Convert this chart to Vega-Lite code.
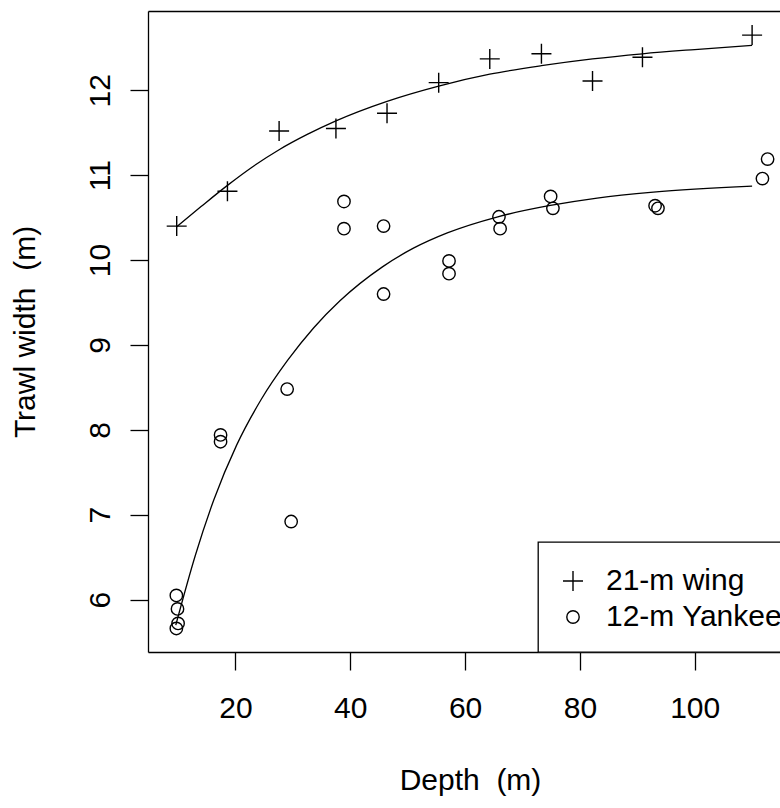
{
  "$schema": "https://vega.github.io/schema/vega-lite/v6.json",
  "autosize": {"type": "none"},
  "padding": {"left": 148, "top": 11, "right": 0, "bottom": 156},
  "width": 632,
  "height": 641,
  "background": "white",
  "datasets": {
    "points": [
      {"series": "21-m wing", "depth": 9.76, "width": 10.40},
      {"series": "21-m wing", "depth": 18.6, "width": 10.81},
      {"series": "21-m wing", "depth": 27.6, "width": 11.52},
      {"series": "21-m wing", "depth": 37.5, "width": 11.55},
      {"series": "21-m wing", "depth": 46.4, "width": 11.73},
      {"series": "21-m wing", "depth": 55.4, "width": 12.09},
      {"series": "21-m wing", "depth": 64.3, "width": 12.37},
      {"series": "21-m wing", "depth": 73.3, "width": 12.43},
      {"series": "21-m wing", "depth": 82.2, "width": 12.11},
      {"series": "21-m wing", "depth": 90.9, "width": 12.39},
      {"series": "21-m wing", "depth": 110.0, "width": 12.65},
      {"series": "12-m Yankee", "depth": 9.7, "width": 6.05},
      {"series": "12-m Yankee", "depth": 9.9, "width": 5.89},
      {"series": "12-m Yankee", "depth": 10.0, "width": 5.72},
      {"series": "12-m Yankee", "depth": 9.7, "width": 5.66},
      {"series": "12-m Yankee", "depth": 17.4, "width": 7.94},
      {"series": "12-m Yankee", "depth": 17.4, "width": 7.86},
      {"series": "12-m Yankee", "depth": 29.0, "width": 8.48},
      {"series": "12-m Yankee", "depth": 29.7, "width": 6.92},
      {"series": "12-m Yankee", "depth": 38.9, "width": 10.69},
      {"series": "12-m Yankee", "depth": 38.9, "width": 10.37},
      {"series": "12-m Yankee", "depth": 45.8, "width": 10.40},
      {"series": "12-m Yankee", "depth": 45.8, "width": 9.60},
      {"series": "12-m Yankee", "depth": 57.2, "width": 9.99},
      {"series": "12-m Yankee", "depth": 57.2, "width": 9.84},
      {"series": "12-m Yankee", "depth": 65.9, "width": 10.51},
      {"series": "12-m Yankee", "depth": 66.1, "width": 10.37},
      {"series": "12-m Yankee", "depth": 74.9, "width": 10.75},
      {"series": "12-m Yankee", "depth": 75.3, "width": 10.61},
      {"series": "12-m Yankee", "depth": 93.1, "width": 10.64},
      {"series": "12-m Yankee", "depth": 93.6, "width": 10.61},
      {"series": "12-m Yankee", "depth": 111.8, "width": 10.96},
      {"series": "12-m Yankee", "depth": 112.7, "width": 11.19}
    ],
    "curves": [
      {"series": "21-m wing", "depth": 9.7, "width": 10.39},
      {"series": "21-m wing", "depth": 14.0, "width": 10.63},
      {"series": "21-m wing", "depth": 18.6, "width": 10.88},
      {"series": "21-m wing", "depth": 23.0, "width": 11.10},
      {"series": "21-m wing", "depth": 27.6, "width": 11.30},
      {"series": "21-m wing", "depth": 32.5, "width": 11.48},
      {"series": "21-m wing", "depth": 37.5, "width": 11.64},
      {"series": "21-m wing", "depth": 46.4, "width": 11.87},
      {"series": "21-m wing", "depth": 55.4, "width": 12.05},
      {"series": "21-m wing", "depth": 64.3, "width": 12.19},
      {"series": "21-m wing", "depth": 73.3, "width": 12.29},
      {"series": "21-m wing", "depth": 82.2, "width": 12.37},
      {"series": "21-m wing", "depth": 90.9, "width": 12.43},
      {"series": "21-m wing", "depth": 100.0, "width": 12.48},
      {"series": "21-m wing", "depth": 110.0, "width": 12.53},
      {"series": "12-m Yankee", "depth": 9.6, "width": 5.70},
      {"series": "12-m Yankee", "depth": 13.0, "width": 6.52},
      {"series": "12-m Yankee", "depth": 16.2, "width": 7.17},
      {"series": "12-m Yankee", "depth": 20.2, "width": 7.82},
      {"series": "12-m Yankee", "depth": 24.5, "width": 8.36},
      {"series": "12-m Yankee", "depth": 29.1, "width": 8.82},
      {"series": "12-m Yankee", "depth": 33.6, "width": 9.20},
      {"series": "12-m Yankee", "depth": 38.2, "width": 9.52},
      {"series": "12-m Yankee", "depth": 45.6, "width": 9.92},
      {"series": "12-m Yankee", "depth": 51.0, "width": 10.14},
      {"series": "12-m Yankee", "depth": 56.9, "width": 10.32},
      {"series": "12-m Yankee", "depth": 65.7, "width": 10.51},
      {"series": "12-m Yankee", "depth": 74.6, "width": 10.64},
      {"series": "12-m Yankee", "depth": 83.0, "width": 10.73},
      {"series": "12-m Yankee", "depth": 92.8, "width": 10.80},
      {"series": "12-m Yankee", "depth": 110.0, "width": 10.87}
    ]
  },
  "layer": [
    {
      "data": {"name": "curves"},
      "mark": {"type": "line", "color": "black", "strokeWidth": 1.3, "interpolate": "monotone", "clip": true},
      "encoding": {
        "x": {
          "field": "depth", "type": "quantitative",
          "scale": {"domain": [4.76, 114.86], "nice": false, "zero": false},
          "axis": {
            "orient": "bottom",
            "values": [20, 40, 60, 80, 100],
            "labelBaseline": "alphabetic",
            "labelPadding": 47,
            "labelFlush": false,
            "labelOverlap": false,
            "title": "Depth\u00a0 (m)",
            "titleX": 322,
            "titleY": 137,
            "titleAlign": "center",
            "titleBaseline": "alphabetic",
            "titleAnchor": null
          }
        },
        "y": {
          "field": "width", "type": "quantitative",
          "scale": {"domain": [5.383, 12.934], "nice": false, "zero": false},
          "axis": {
            "orient": "left",
            "values": [6, 7, 8, 9, 10, 11, 12],
            "labelAngle": -90,
            "labelAlign": "center",
            "labelBaseline": "alphabetic",
            "labelPadding": 21,
            "labelFlush": false,
            "labelOverlap": false,
            "title": "Trawl width\u00a0 (m)",
            "titleAngle": -90,
            "titleX": -114,
            "titleY": 320.5,
            "titleAlign": "center",
            "titleBaseline": "alphabetic"
          }
        },
        "detail": {"field": "series", "type": "nominal"}
      }
    },
    {
      "data": {"name": "points"},
      "mark": {"type": "point", "filled": false, "color": "black", "strokeWidth": 1.4, "size": 400, "opacity": 1},
      "encoding": {
        "x": {
          "field": "depth", "type": "quantitative",
          "axis": {"orient": "top", "labels": false, "ticks": false, "title": null, "domain": true}
        },
        "y": {"field": "width", "type": "quantitative", "axis": null},
        "shape": {
          "field": "series", "type": "nominal",
          "scale": {
            "domain": ["21-m wing", "12-m Yankee"],
            "range": ["M-1,0L1,0M0,-1L0,1", "M0.62,0A0.62,0.62 0 1,1 -0.62,0A0.62,0.62 0 1,1 0.62,0Z"]
          },
          "legend": {
            "orient": "none",
            "legendX": 390,
            "legendY": 531,
            "title": " ",
            "titleFontSize": 4,
            "titlePadding": 0,
            "padding": 20,
            "strokeColor": "black",
            "fillColor": "white",
            "symbolSize": 400,
            "symbolStrokeWidth": 1.4,
            "symbolStrokeColor": "black",
            "symbolFillColor": "transparent",
            "labelFont": "Liberation Sans",
            "labelFontSize": 30,
            "labelColor": "black",
            "labelOffset": 18,
            "labelLimit": 500,
            "rowPadding": 6
          }
        }
      }
    }
  ],
  "resolve": {"axis": {"x": "independent", "y": "independent"}},
  "config": {
    "view": {"stroke": null},
    "font": "Liberation Sans",
    "legend": {"strokeWidth": 1.3},
    "axis": {
      "grid": false,
      "domainColor": "black",
      "domainWidth": 1.3,
      "tickColor": "black",
      "tickWidth": 1.3,
      "tickSize": 18,
      "labelFont": "Liberation Sans",
      "labelFontSize": 30,
      "labelColor": "black",
      "titleFont": "Liberation Sans",
      "titleFontSize": 30,
      "titleFontWeight": "normal",
      "titleColor": "black"
    }
  }
}
